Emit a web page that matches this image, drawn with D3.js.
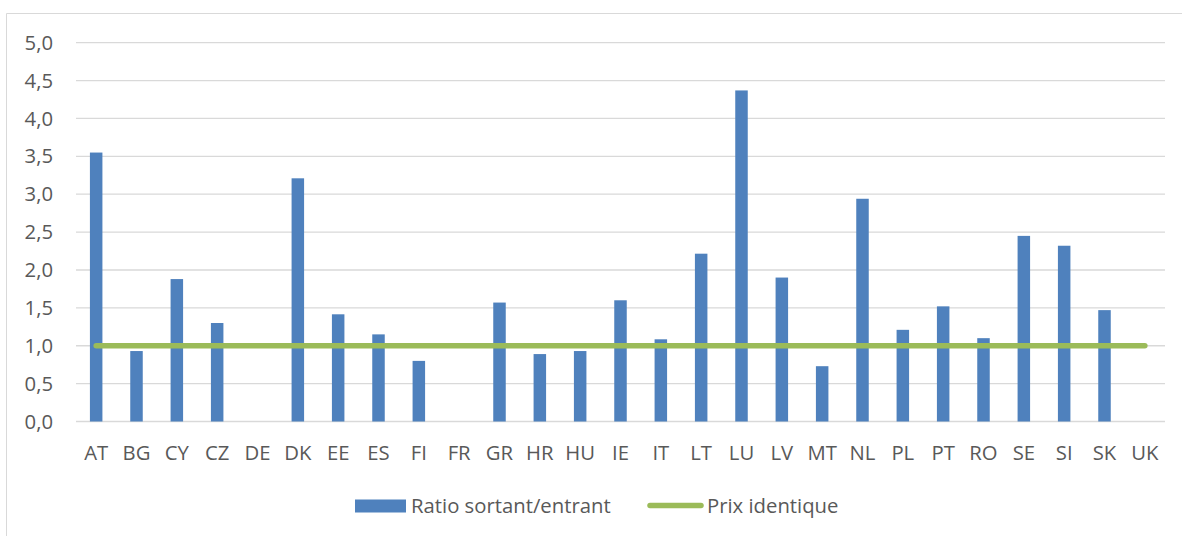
<!DOCTYPE html>
<html>
<head>
<meta charset="utf-8">
<script src="https://cdn.jsdelivr.net/npm/d3@7"></script>
<style>
  body { margin: 0; background: #fff; }
  text { font-family: "Open Sans", sans-serif; fill: #595959; }
</style>
</head>
<body>
<svg width="1182" height="536"></svg>
<script>
var WIDTH = 1182;
var HEIGHT = 536;

//country codes on the x axis
var countries = ['AT', 'BG', 'CY', 'CZ', 'DE', 'DK', 'EE', 'ES', 'FI', 'FR', 'GR', 'HR', 'HU', 'IE',
    'IT', 'LT', 'LU', 'LV', 'MT', 'NL', 'PL', 'PT', 'RO', 'SE', 'SI', 'SK', 'UK'];

//ratio sortant/entrant, null where no bar is shown
var ratios = [3.55, 0.93, 1.88, 1.30, null, 3.21, 1.415, 1.15, 0.80, null, 1.57, 0.89, 0.93, 1.60,
    1.085, 2.215, 4.37, 1.90, 0.73, 2.94, 1.21, 1.52, 1.10, 2.45, 2.32, 1.47, null];

//reference line: same price
var samePrice = countries.map(function() { return 1.0; });

var yTicks = [0, 0.5, 1, 1.5, 2, 2.5, 3, 3.5, 4, 4.5, 5];

var seriesNames = ['Ratio sortant/entrant', 'Prix identique'];

var margin = { left: 76, right: 17, top: 42.7, bottom: 114.5 };
var FONT = 20.3;

var svg = d3.select('svg');

//outer chart frame (only top and left edges are visible)
svg.append('path')
    .attr('d', 'M6.5,536 V13.5 H1182')
    .attr('fill', 'none')
    .attr('stroke', '#d9d9d9')
    .attr('stroke-width', 1);

var x = d3.scaleBand()
    .domain(countries)
    .range([margin.left, WIDTH - margin.right])
    .paddingInner(0.69)
    .paddingOuter(0.345);

var y = d3.scaleLinear()
    .domain([0, 5])
    .range([HEIGHT - margin.bottom, margin.top]);

var fmt = function(v) { return d3.format('.1f')(v).replace('.', ','); };

//gridlines
svg.append('g').selectAll('line')
    .data(yTicks)
    .enter()
    .append('line')
    .attr('x1', margin.left)
    .attr('x2', WIDTH - margin.right)
    .attr('y1', function(d) { return y(d); })
    .attr('y2', function(d) { return y(d); })
    .attr('stroke', '#d9d9d9')
    .attr('stroke-width', 1.3);

//y tick labels
svg.append('g').selectAll('text')
    .data(yTicks)
    .enter()
    .append('text')
    .attr('x', 53)
    .attr('y', function(d) { return y(d); })
    .attr('dy', '0.35em')
    .attr('text-anchor', 'end')
    .attr('font-size', FONT)
    .text(fmt);

//bars
var barData = countries.map(function(c, i) { return { country: c, value: ratios[i] }; })
    .filter(function(d) { return d.value !== null; });

svg.append('g').selectAll('rect')
    .data(barData)
    .enter()
    .append('rect')
    .attr('x', function(d) { return x(d.country); })
    .attr('width', x.bandwidth())
    .attr('y', function(d) { return y(d.value); })
    .attr('height', function(d) { return y(0) - y(d.value); })
    .attr('fill', '#4f81bd');

//green reference line
var line = d3.line()
    .x(function(d, i) { return x(countries[i]) + x.bandwidth() / 2; })
    .y(function(d) { return y(d); });

svg.append('path')
    .datum(samePrice)
    .attr('d', line)
    .attr('fill', 'none')
    .attr('stroke', '#9bbb59')
    .attr('stroke-width', 5.5)
    .attr('stroke-linecap', 'round');

//x labels
svg.append('g').selectAll('text')
    .data(countries)
    .enter()
    .append('text')
    .attr('x', function(d) { return x(d) + x.bandwidth() / 2; })
    .attr('y', 453)
    .attr('dy', '0.35em')
    .attr('text-anchor', 'middle')
    .attr('font-size', FONT)
    .text(function(d) { return d; });

//legend
var legend = svg.append('g');
legend.append('rect')
    .attr('x', 355)
    .attr('y', 499.5)
    .attr('width', 51)
    .attr('height', 13)
    .attr('fill', '#4f81bd');
legend.append('text')
    .attr('x', 411)
    .attr('y', 506)
    .attr('dy', '0.35em')
    .attr('font-size', FONT)
    .text(seriesNames[0]);
legend.append('line')
    .attr('x1', 650)
    .attr('x2', 701)
    .attr('y1', 505.5)
    .attr('y2', 505.5)
    .attr('stroke', '#9bbb59')
    .attr('stroke-width', 5.5)
    .attr('stroke-linecap', 'round');
legend.append('text')
    .attr('x', 707)
    .attr('y', 506)
    .attr('dy', '0.35em')
    .attr('font-size', FONT)
    .text(seriesNames[1]);
</script>
</body>
</html>
